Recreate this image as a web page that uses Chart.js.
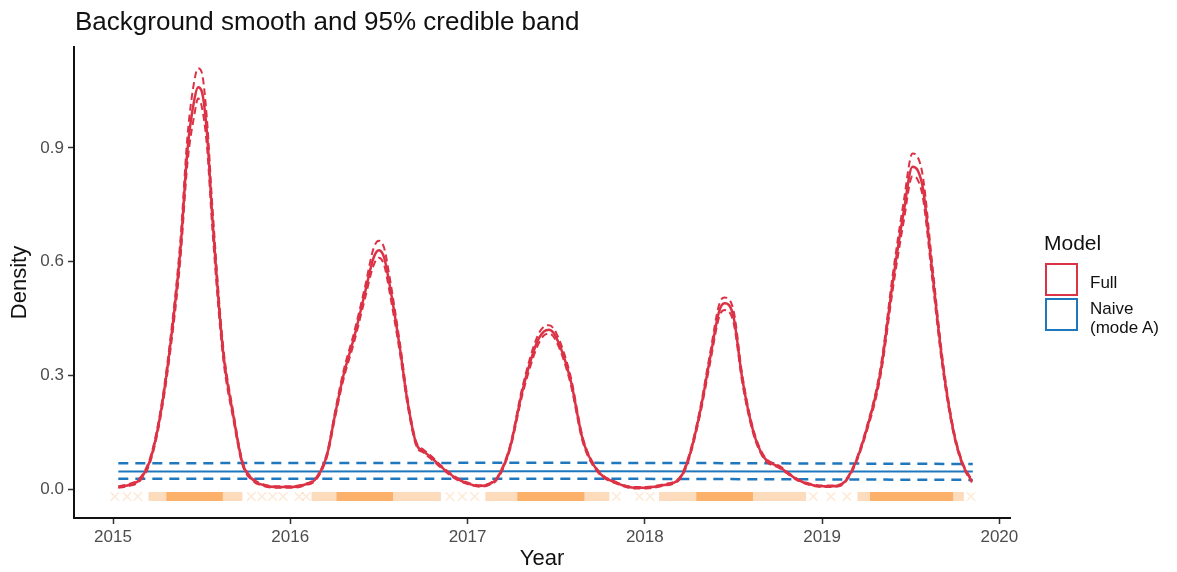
<!DOCTYPE html>
<html>
<head>
<meta charset="utf-8">
<script src="https://cdn.jsdelivr.net/npm/chart.js@4/dist/chart.umd.min.js"></script>
<style>
  body { margin: 0; background: #fff; font-family: "Liberation Sans", Arial, sans-serif; }
  #wrap { position: relative; width: 1177px; height: 572px; }
  #title { position: absolute; left: 75px; top: 8px; font-size: 26px; line-height: 26px; color: #111; white-space: nowrap; }
  #legend { position: absolute; left: 0; top: 0; }
  .lg-head { position: absolute; left: 1044px; top: 232px; font-size: 21px; line-height: 21px; color: #111; }
  .lg-box { position: absolute; left: 1045px; width: 33px; height: 33px; box-sizing: border-box; border: 2px solid; }
  .lg-txt { position: absolute; left: 1090px; font-size: 17px; line-height: 19px; color: #111; white-space: nowrap; }
</style>
</head>
<body>
<div id="wrap">
  <canvas id="densityChart" width="1177" height="572"></canvas>
  <div id="title">Background smooth and 95% credible band</div>
  <div id="legend">
    <div class="lg-head">Model</div>
    <div class="lg-box" style="top:263px;border-color:#DC3246"></div>
    <div class="lg-box" style="top:298px;border-color:#1F78BE"></div>
    <div class="lg-txt" style="top:273px">Full</div>
    <div class="lg-txt" style="top:299px">Naive<br>(mode A)</div>
  </div>
</div>
<script>
// --- axis ticks ---
const xTicks = [2015, 2016, 2017, 2018, 2019, 2020];
const yTicks = [0, 0.3, 0.6, 0.9];

// --- Full model: smooth + 95% band ---
const fullYear = [
  2015.03, 2015.10, 2015.15, 2015.21, 2015.265, 2015.32, 2015.38, 2015.42, 2015.46, 2015.48, 2015.50, 2015.53, 2015.56, 2015.62, 2015.68, 2015.73, 2015.79, 2015.85, 2015.92,
  2016.00, 2016.07, 2016.15, 2016.21, 2016.25, 2016.30, 2016.36, 2016.42, 2016.47, 2016.50, 2016.53, 2016.56, 2016.62, 2016.66, 2016.71, 2016.75, 2016.79, 2016.86, 2016.93,
  2017.00, 2017.07, 2017.12, 2017.17, 2017.24, 2017.31, 2017.39, 2017.43, 2017.46, 2017.50, 2017.58, 2017.65, 2017.73, 2017.84, 2017.95,
  2018.02, 2018.10, 2018.20, 2018.25, 2018.31, 2018.37, 2018.42, 2018.45, 2018.50, 2018.55, 2018.61, 2018.67, 2018.76, 2018.86, 2018.95,
  2019.03, 2019.10, 2019.17, 2019.25, 2019.33, 2019.40, 2019.46, 2019.51, 2019.54, 2019.57, 2019.62, 2019.68, 2019.74, 2019.79, 2019.845
];
const fullMean = [
  0.005, 0.012, 0.024, 0.077, 0.19, 0.367, 0.63, 0.894, 1.03, 1.06, 1.05, 0.94, 0.72, 0.367, 0.19, 0.069, 0.024, 0.010, 0.005,
  0.005, 0.01, 0.03, 0.095, 0.19, 0.30, 0.40, 0.515, 0.61, 0.63, 0.61, 0.54, 0.367, 0.235, 0.12, 0.10, 0.085, 0.055, 0.03,
  0.015, 0.008, 0.012, 0.03, 0.11, 0.26, 0.385, 0.415, 0.42, 0.40, 0.29, 0.13, 0.05, 0.016, 0.003,
  0.004, 0.01, 0.03, 0.085, 0.20, 0.35, 0.47, 0.49, 0.455, 0.29, 0.155, 0.085, 0.058, 0.025, 0.01,
  0.007, 0.01, 0.05, 0.155, 0.31, 0.55, 0.73, 0.85, 0.84, 0.79, 0.58, 0.33, 0.155, 0.069, 0.02
];
const fullUpper = [
  0.007, 0.015, 0.028, 0.083, 0.199, 0.382, 0.655, 0.93, 1.08, 1.11, 1.10, 0.975, 0.75, 0.383, 0.199, 0.074, 0.027, 0.012, 0.007,
  0.007, 0.012, 0.033, 0.10, 0.198, 0.311, 0.413, 0.53, 0.635, 0.655, 0.635, 0.56, 0.38, 0.244, 0.125, 0.104, 0.089, 0.058, 0.033,
  0.017, 0.010, 0.014, 0.033, 0.115, 0.27, 0.398, 0.428, 0.432, 0.412, 0.30, 0.136, 0.053, 0.018, 0.005,
  0.006, 0.012, 0.033, 0.09, 0.208, 0.363, 0.488, 0.505, 0.472, 0.30, 0.161, 0.089, 0.061, 0.027, 0.012,
  0.009, 0.012, 0.053, 0.161, 0.321, 0.57, 0.757, 0.885, 0.875, 0.82, 0.60, 0.342, 0.161, 0.073, 0.023
];
const fullLower = [
  0.003, 0.009, 0.020, 0.071, 0.181, 0.352, 0.605, 0.86, 0.99, 1.03, 1.01, 0.905, 0.69, 0.351, 0.181, 0.064, 0.021, 0.008, 0.003,
  0.003, 0.008, 0.027, 0.09, 0.182, 0.289, 0.387, 0.50, 0.59, 0.61, 0.59, 0.52, 0.354, 0.226, 0.115, 0.096, 0.081, 0.052, 0.027,
  0.013, 0.006, 0.010, 0.027, 0.105, 0.25, 0.372, 0.405, 0.41, 0.39, 0.28, 0.124, 0.047, 0.014, 0.001,
  0.002, 0.008, 0.027, 0.08, 0.192, 0.337, 0.455, 0.472, 0.44, 0.28, 0.149, 0.081, 0.055, 0.023, 0.008,
  0.005, 0.008, 0.047, 0.149, 0.299, 0.53, 0.705, 0.825, 0.815, 0.765, 0.56, 0.318, 0.149, 0.065, 0.017
];

// --- Naive model (mode A): flat background ---
const naiveYear = [2015.03, 2017.45, 2019.85];
const naiveMean = [0.046, 0.047, 0.046];
const naiveUpper = [0.068, 0.069, 0.066];
const naiveLower = [0.027, 0.027, 0.024];

// --- rug of event times (start/end of stretches) ---
const RUG_Y = -0.02;
const rugDense = [[2015.30, 2015.62], [2016.26, 2016.58], [2017.28, 2017.66], [2018.29, 2018.61], [2019.27, 2019.74]];
const rugMid = [[2015.20, 2015.30], [2015.62, 2015.73], [2016.12, 2016.26], [2016.58, 2016.85], [2017.10, 2017.28],
                [2017.66, 2017.80], [2018.08, 2018.29], [2018.61, 2018.91], [2019.20, 2019.27], [2019.74, 2019.80]];
const rugSparse = [2015.01, 2015.08, 2015.14, 2015.78, 2015.84, 2015.90, 2015.96, 2016.05, 2016.09, 2016.90, 2016.97, 2017.04,
                   2017.84, 2017.97, 2018.03, 2018.95, 2019.05, 2019.14, 2019.84];

const RED = '#DC3246';
const BLUE = '#1F78BE';
const ORANGE = '251,168,90';

const pts = (xs, ys) => xs.map((x, i) => ({ x: x, y: ys[i] }));
const segs = list => {
  const out = [];
  list.forEach(([s, e]) => { out.push({ x: s, y: RUG_Y }, { x: e, y: RUG_Y }, { x: e, y: null }); });
  return out;
};

const lineDs = (label, data, color, width, dash, order) => ({
  label: label,
  data: data,
  borderColor: color,
  borderWidth: width,
  borderDash: dash,
  pointRadius: 0,
  fill: false,
  cubicInterpolationMode: 'monotone',
  order: order
});

const ctx = document.getElementById('densityChart').getContext('2d');
new Chart(ctx, {
  type: 'line',
  data: {
    datasets: [
      lineDs('Full', pts(fullYear, fullMean), RED, 2.5, [], 1),
      lineDs('Full upper', pts(fullYear, fullUpper), RED, 2, [7, 4], 2),
      lineDs('Full lower', pts(fullYear, fullLower), RED, 2, [7, 4], 2),
      lineDs('Naive', pts(naiveYear, naiveMean), BLUE, 2, [], 3),
      lineDs('Naive upper', pts(naiveYear, naiveUpper), BLUE, 2.5, [10, 7], 3),
      lineDs('Naive lower', pts(naiveYear, naiveLower), BLUE, 2.5, [10, 7], 3),
      {
        label: 'Events (dense)',
        data: segs(rugDense),
        borderColor: `rgba(${ORANGE},0.9)`,
        borderWidth: 9,
        borderCapStyle: 'butt',
        pointRadius: 0,
        spanGaps: false,
        order: 5
      },
      {
        label: 'Events (mid)',
        data: segs(rugMid),
        borderColor: `rgba(${ORANGE},0.4)`,
        borderWidth: 9,
        borderCapStyle: 'butt',
        pointRadius: 0,
        spanGaps: false,
        order: 5
      },
      {
        label: 'Events (sparse)',
        data: rugSparse.map(x => ({ x: x, y: RUG_Y })),
        showLine: false,
        pointStyle: 'crossRot',
        pointRadius: 6,
        borderWidth: 1.5,
        pointBorderColor: `rgba(${ORANGE},0.25)`,
        order: 5
      }
    ]
  },
  options: {
    responsive: false,
    animation: false,
    layout: { padding: { top: 47, right: 167, left: 0, bottom: 0 } },
    plugins: {
      legend: { display: false },
      tooltip: { enabled: false },
      title: { display: false }
    },
    scales: {
      x: {
        type: 'linear',
        min: 2014.78,
        max: 2020.06,
        afterBuildTicks: axis => { axis.ticks = xTicks.map(v => ({ value: v })); },
        afterFit: scale => { scale.height = 54; },
        ticks: {
          callback: v => String(v),
          color: '#4D4D4D',
          font: { family: '"Liberation Sans", Arial, sans-serif', size: 17 },
          padding: 3,
          maxRotation: 0
        },
        grid: { drawOnChartArea: false, drawTicks: true, tickLength: 6, tickColor: '#333', tickWidth: 1.5 },
        border: { display: true, color: '#111', width: 2 },
        title: {
          display: true,
          text: 'Year',
          color: '#111',
          font: { family: '"Liberation Sans", Arial, sans-serif', size: 22 },
          padding: { top: 0, bottom: 0 }
        }
      },
      y: {
        type: 'linear',
        min: -0.0765,
        max: 1.166,
        afterBuildTicks: axis => { axis.ticks = yTicks.map(v => ({ value: v })); },
        afterFit: scale => { scale.width = 74; },
        ticks: {
          callback: v => v.toFixed(1),
          color: '#4D4D4D',
          font: { family: '"Liberation Sans", Arial, sans-serif', size: 17 },
          padding: 4
        },
        grid: { drawOnChartArea: false, drawTicks: true, tickLength: 6, tickColor: '#333', tickWidth: 1.5 },
        border: { display: true, color: '#111', width: 2 },
        title: {
          display: true,
          text: 'Density',
          color: '#111',
          font: { family: '"Liberation Sans", Arial, sans-serif', size: 22 },
          padding: { top: 7, bottom: 0 }
        }
      }
    }
  }
});
</script>
</body>
</html>
